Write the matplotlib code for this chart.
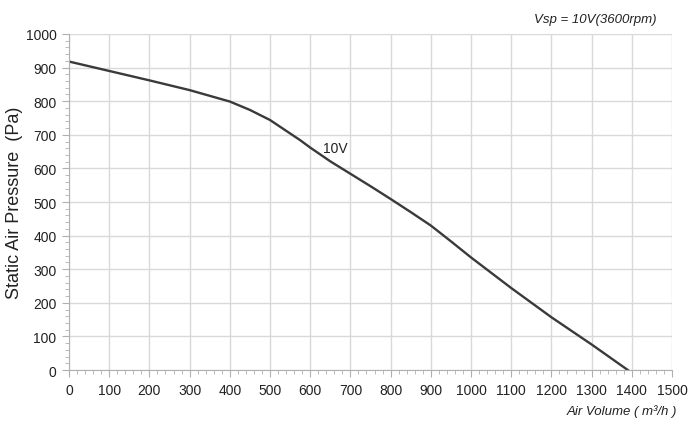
import numpy as np
import matplotlib.pyplot as plt
from matplotlib.ticker import MultipleLocator

plt.rcParams['font.family'] = ['Liberation Sans', 'DejaVu Sans']

# curve
air_volume = [0, 100, 200, 300, 350, 400, 450, 500, 550, 575, 600, 650, 700,
              750, 800, 850, 900, 950, 1000, 1100, 1200, 1300, 1390]
pressure = [918, 890, 862, 833, 816, 799, 774, 744, 704, 684, 662, 621, 584,
            547, 509, 470, 430, 383, 335, 244, 157, 76, 0]
curve_label = '10V'

fig = plt.figure(figsize=(7, 4.31), dpi=100)
ax = fig.add_axes([0.0986, 0.1392, 0.8614, 0.7796])

ax.plot(air_volume, pressure, color='#3a3a3a', lw=1.7, solid_joinstyle='round')
ax.text(662, 660, curve_label, fontsize=10, color='#222222', ha='center', va='center')

ax.set_xlim(0, 1500)
ax.set_ylim(0, 1000)
ax.xaxis.set_major_locator(MultipleLocator(100))
ax.yaxis.set_major_locator(MultipleLocator(100))
ax.xaxis.set_minor_locator(MultipleLocator(20))
ax.yaxis.set_minor_locator(MultipleLocator(20))
ax.grid(True, which='major', color='#d9d9d9', lw=1)
ax.set_axisbelow(True)

for s in ['top', 'right']:
    ax.spines[s].set_visible(False)
for s in ['left', 'bottom']:
    ax.spines[s].set_color('#b0b0b0')
ax.tick_params(which='major', length=5, color='#b0b0b0', labelsize=10, labelcolor='#222222', pad=4)
ax.tick_params(which='minor', length=3, color='#b0b0b0')

ax.set_ylabel('Static Air Pressure  (Pa)', fontsize=13, color='#222222', labelpad=2)
fig.text(0.967, 0.045, 'Air Volume ( m³/h )', fontsize=9.5, style='italic',
         ha='right', va='center', color='#222222')
fig.text(0.938, 0.953, 'Vsp = 10V(3600rpm)', fontsize=9.5, style='italic',
         ha='right', va='center', color='#222222')

fig.savefig('out.png', dpi=100)
